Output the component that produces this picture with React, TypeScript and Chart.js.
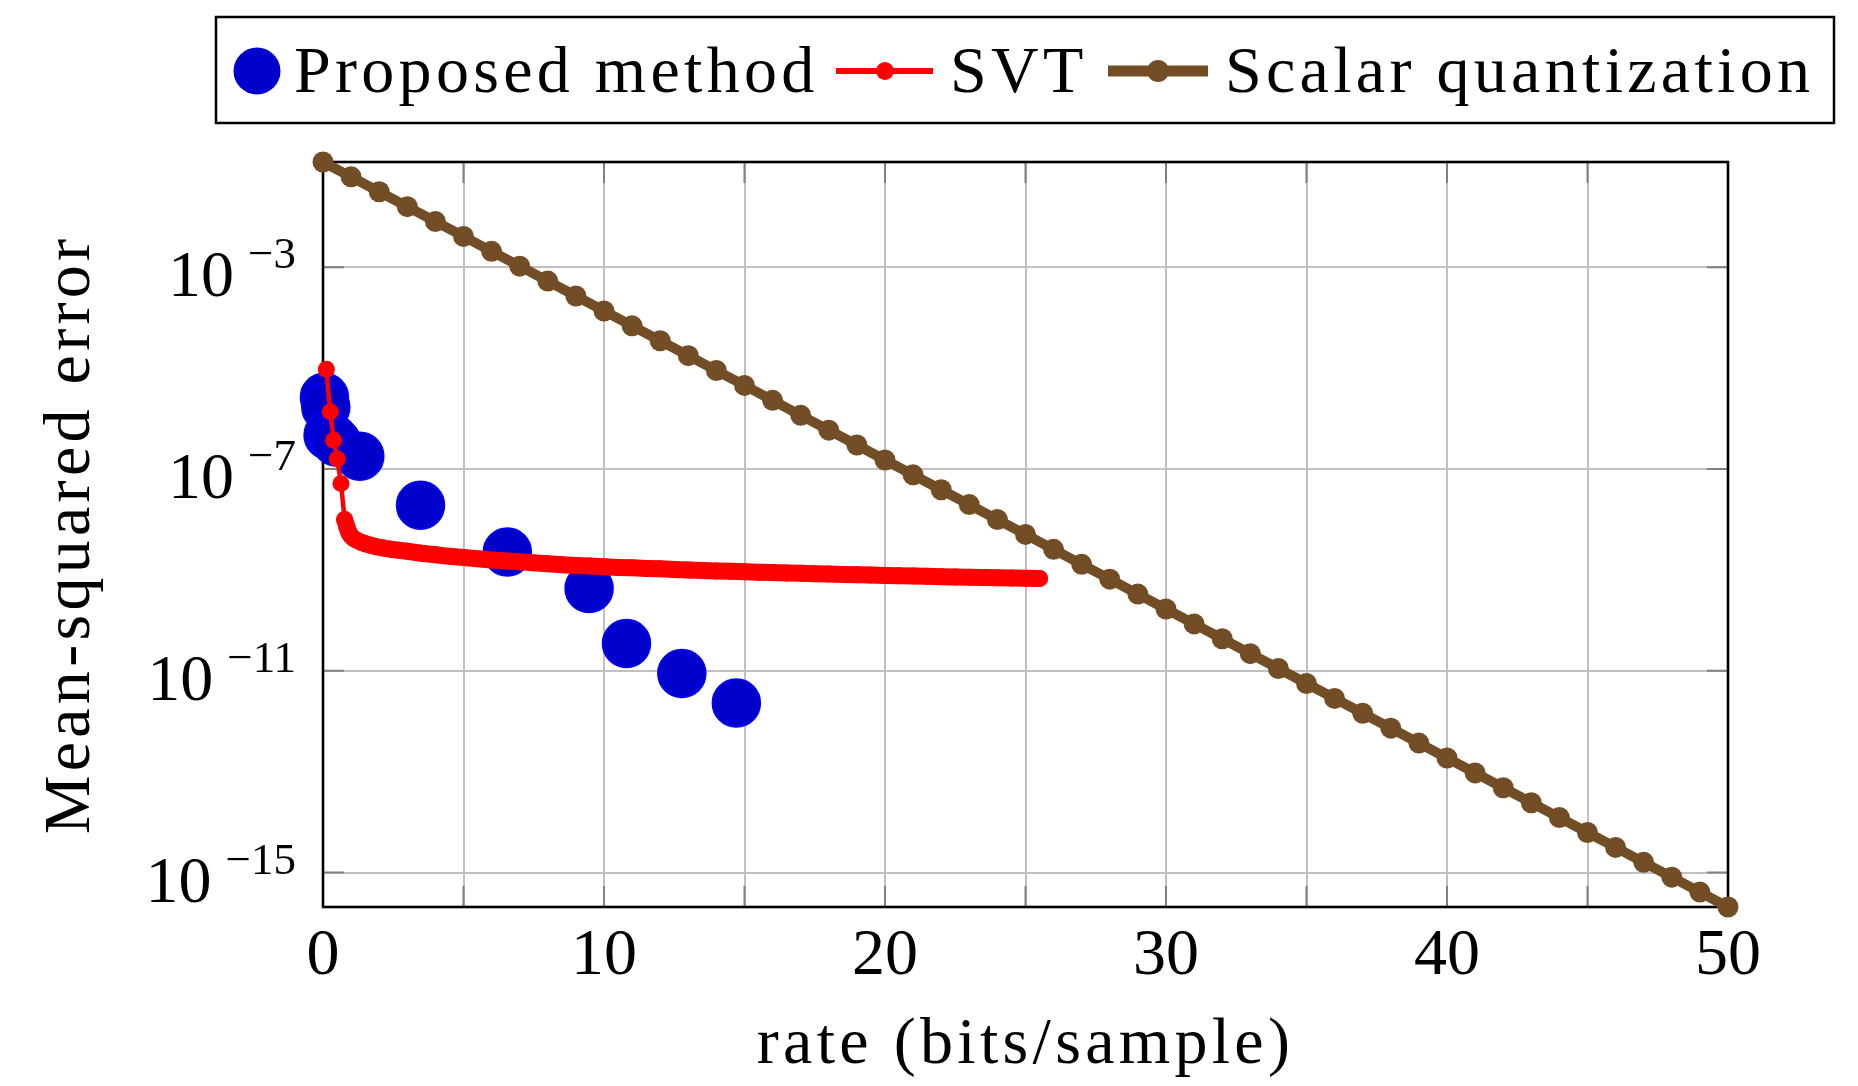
import { useEffect, useRef } from 'react';
import { Chart, registerables } from 'chart.js';

Chart.register(...registerables);

// ---- data ----
const SQ_RATE = [0, 1, 2, 3, 4, 5, 6, 7, 8, 9, 10, 11, 12, 13, 14, 15, 16, 17, 18, 19, 20, 21, 22, 23, 24, 25, 26, 27, 28, 29, 30, 31, 32, 33, 34, 35, 36, 37, 38, 39, 40, 41, 42, 43, 44, 45, 46, 47, 48, 49, 50];
const SQ_MSE = [
  1.22e-1, 6.20e-2, 3.14e-2, 1.59e-2, 8.06e-3, 4.08e-3, 2.07e-3, 1.05e-3, 5.31e-4, 2.69e-4,
  1.36e-4, 6.90e-5, 3.49e-5, 1.77e-5, 8.96e-6, 4.54e-6, 2.30e-6, 1.16e-6, 5.90e-7, 2.99e-7,
  1.51e-7, 7.67e-8, 3.88e-8, 1.97e-8, 9.96e-9, 5.05e-9, 2.56e-9, 1.29e-9, 6.56e-10, 3.32e-10,
  1.68e-10, 8.52e-11, 4.32e-11, 2.19e-11, 1.11e-11, 5.61e-12, 2.84e-12, 1.44e-12, 7.29e-13, 3.69e-13,
  1.87e-13, 9.48e-14, 4.80e-14, 2.43e-14, 1.23e-14, 6.24e-15, 3.16e-15, 1.60e-15, 8.11e-16, 4.11e-16,
  2.08e-16,
];

const SVT_RATE = [
  0.12, 0.26, 0.38, 0.51, 0.64, 0.77, 0.85, 0.9, 0.95, 1.0, 1.1, 1.2, 1.35, 1.5, 1.7, 1.9, 2.1, 2.4, 2.7, 3.0,
  3.5, 4.0, 4.5, 5.0, 5.5, 6.0, 6.5, 7.0, 7.5, 8.0, 8.5, 9.0, 9.5, 10.0, 10.5, 11.0, 11.5, 12.0, 12.5, 13.0,
  13.5, 14.0, 14.5, 15.0, 15.5, 16.0, 16.5, 17.0, 17.5, 18.0, 18.5, 19.0, 19.5, 20.0, 20.5, 21.0, 21.5, 22.0,
  22.5, 23.0, 23.5, 24.0, 24.5, 25.0, 25.5,
];
const SVT_MSE = [
  9.5e-6, 1.36e-6, 3.72e-7, 1.58e-7, 5.15e-8, 9.95e-9, 7.08e-9, 5.89e-9, 5.13e-9, 4.68e-9, 4.17e-9, 3.89e-9,
  3.55e-9, 3.31e-9, 3.09e-9, 2.88e-9, 2.75e-9, 2.57e-9, 2.45e-9, 2.34e-9,
  2.14e-9, 2.00e-9, 1.86e-9, 1.76e-9, 1.66e-9, 1.58e-9, 1.51e-9, 1.45e-9, 1.38e-9, 1.32e-9, 1.27e-9, 1.23e-9,
  1.19e-9, 1.15e-9, 1.12e-9, 1.10e-9, 1.07e-9, 1.05e-9, 1.02e-9, 1.00e-9, 9.77e-10, 9.55e-10, 9.38e-10,
  9.20e-10, 9.04e-10, 8.87e-10, 8.71e-10, 8.55e-10, 8.41e-10, 8.28e-10, 8.15e-10, 8.02e-10, 7.89e-10,
  7.76e-10, 7.66e-10, 7.55e-10, 7.45e-10, 7.35e-10, 7.24e-10, 7.16e-10, 7.08e-10, 7.00e-10, 6.92e-10,
  6.84e-10, 6.76e-10,
];

const PROP_RATE = [0.05, 0.1, 0.18, 0.36, 0.48, 1.31, 3.47, 6.56, 9.47, 10.8, 12.77, 14.71];
const PROP_MSE = [2.65e-6, 1.68e-6, 4.68e-7, 4.02e-7, 3.44e-7, 1.79e-7, 1.91e-8, 2.27e-9, 4.27e-10, 3.47e-11, 8.81e-12, 2.30e-12];

const X_LABEL_VALUES = [0, 10, 20, 30, 40, 50];
const Y_TICKS = [1e-15, 1e-11, 1e-7, 1e-3];
const LEGEND_LABELS = ['Proposed method', 'SVT', 'Scalar quantization'];
const X_TITLE = 'rate (bits/sample)';
const Y_TITLE = 'Mean-squared error';

const BLUE = '#0000CC';
const RED = '#FF0000';
const BROWN = '#734D26';
const FONT = "'Liberation Serif', 'Times New Roman', serif";

const W = 1858;
const H = 1086;

function pts(xs: number[], ys: number[]) {
  return xs.map((x, i) => ({ x, y: ys[i] }));
}

const decor = {
  id: 'decor',
  beforeDatasetsDraw(chart: any) {
    const { ctx, chartArea: a, scales } = chart;
    ctx.save();
    ctx.strokeStyle = '#808080';
    ctx.lineWidth = 2;
    const tl = 21;
    for (const t of scales.x.ticks) {
      const x = scales.x.getPixelForValue(t.value);
      ctx.beginPath();
      ctx.moveTo(x, a.bottom);
      ctx.lineTo(x, a.bottom - tl);
      ctx.moveTo(x, a.top);
      ctx.lineTo(x, a.top + tl);
      ctx.stroke();
    }
    for (const t of scales.y.ticks) {
      const y = scales.y.getPixelForValue(t.value);
      ctx.beginPath();
      ctx.moveTo(a.left, y);
      ctx.lineTo(a.left + tl, y);
      ctx.moveTo(a.right, y);
      ctx.lineTo(a.right - tl, y);
      ctx.stroke();
    }
    ctx.strokeStyle = '#000';
    ctx.lineWidth = 2.6;
    ctx.strokeRect(a.left, a.top, a.right - a.left, a.bottom - a.top);
    ctx.restore();
  },
  afterDraw(chart: any) {
    const { ctx, chartArea: a, scales } = chart;
    ctx.save();
    ctx.fillStyle = '#000';
    // x tick labels
    ctx.font = `66px ${FONT}`;
    ctx.textAlign = 'center';
    ctx.textBaseline = 'alphabetic';
    for (const v of X_LABEL_VALUES) {
      ctx.fillText(String(v), scales.x.getPixelForValue(v), 974);
    }
    // y tick labels 10^{-n}
    for (const v of Y_TICKS) {
      const y = scales.y.getPixelForValue(v);
      const e = Math.round(Math.log10(v));
      const sup = (e < 0 ? '\u2212' : '') + Math.abs(e);
      ctx.font = `45px ${FONT}`;
      ctx.textAlign = 'right';
      ctx.fillText(sup, 296, y + 1);
      const sw = ctx.measureText(sup).width;
      ctx.font = `66px ${FONT}`;
      ctx.fillText('10', 296 - sw - 14, y + 29);
    }
    // titles
    (ctx as any).letterSpacing = '4.3px';
    ctx.font = `66px ${FONT}`;
    ctx.textAlign = 'center';
    ctx.fillText(X_TITLE, (a.left + a.right) / 2, 1063);
    ctx.save();
    ctx.translate(89, (a.top + a.bottom) / 2);
    ctx.rotate(-Math.PI / 2);
    ctx.fillText(Y_TITLE, 0, 0);
    ctx.restore();

    // legend
    ctx.lineWidth = 2.5;
    ctx.strokeStyle = '#000';
    ctx.strokeRect(216, 17, 1834 - 216, 123 - 17);
    const cy = 71;
    ctx.textAlign = 'left';
    // proposed
    ctx.fillStyle = BLUE;
    ctx.beginPath();
    ctx.arc(257, cy, 23.5, 0, Math.PI * 2);
    ctx.fill();
    ctx.fillStyle = '#000';
    ctx.fillText(LEGEND_LABELS[0], 294, 92);
    // SVT
    ctx.strokeStyle = RED;
    ctx.lineWidth = 6;
    ctx.beginPath();
    ctx.moveTo(836, cy);
    ctx.lineTo(933, cy);
    ctx.stroke();
    ctx.fillStyle = RED;
    ctx.beginPath();
    ctx.arc(885, cy, 9, 0, Math.PI * 2);
    ctx.fill();
    ctx.fillStyle = '#000';
    ctx.fillText(LEGEND_LABELS[1], 950, 92);
    // Scalar quantization
    ctx.strokeStyle = BROWN;
    ctx.lineWidth = 11;
    ctx.beginPath();
    ctx.moveTo(1108, cy);
    ctx.lineTo(1208, cy);
    ctx.stroke();
    ctx.fillStyle = BROWN;
    ctx.beginPath();
    ctx.arc(1158, cy, 11, 0, Math.PI * 2);
    ctx.fill();
    ctx.fillStyle = '#000';
    ctx.fillText(LEGEND_LABELS[2], 1225, 92);
    ctx.restore();
  },
};

export default function App() {
  const ref = useRef<HTMLCanvasElement | null>(null);

  useEffect(() => {
    document.body.style.margin = '0';
    const canvas = ref.current!;
    const chart = new Chart(canvas, {
      type: 'line',
      data: {
        datasets: [
          {
            label: LEGEND_LABELS[1],
            data: pts(SVT_RATE, SVT_MSE),
            order: 0,
            borderColor: RED,
            backgroundColor: RED,
            borderWidth: 4.5,
            borderCapStyle: 'round',
            borderJoinStyle: 'round',
            segment: {
              borderWidth: (c: any) => (c.p0DataIndex >= 5 ? 17 : 4.5),
            },
            pointRadius: 8.5,
            pointBackgroundColor: RED,
            pointBorderWidth: 0,
            tension: 0,
            clip: false,
          } as any,
          {
            label: LEGEND_LABELS[0],
            data: pts(PROP_RATE, PROP_MSE),
            order: 1,
            showLine: false,
            pointRadius: 24,
            pointBackgroundColor: BLUE,
            pointBorderColor: '#0000FF',
            pointBorderWidth: 1.5,
            clip: false,
          } as any,
          {
            label: LEGEND_LABELS[2],
            data: pts(SQ_RATE, SQ_MSE),
            order: 2,
            borderColor: BROWN,
            backgroundColor: BROWN,
            borderWidth: 10,
            borderJoinStyle: 'round',
            pointRadius: 10.5,
            pointBackgroundColor: BROWN,
            pointBorderWidth: 0,
            tension: 0,
            clip: false,
          } as any,
        ],
      },
      options: {
        responsive: false,
        devicePixelRatio: 1,
        animation: false,
        events: [],
        layout: { padding: { top: 162, left: 0, right: 130, bottom: 0 } },
        plugins: { legend: { display: false }, tooltip: { enabled: false }, title: { display: false } },
        scales: {
          x: {
            type: 'linear',
            min: 0,
            max: 50,
            ticks: { display: false, stepSize: 5 },
            grid: { color: '#C0C0C0', lineWidth: 2, drawTicks: false },
            border: { display: false },
            afterFit: (s: any) => {
              s.height = H - 907;
            },
          },
          y: {
            type: 'logarithmic',
            min: 2.08e-16,
            max: 1.22e-1,
            ticks: { display: false },
            grid: { color: '#C0C0C0', lineWidth: 2, drawTicks: false },
            border: { display: false },
            afterBuildTicks: (s: any) => {
              s.ticks = Y_TICKS.map((v) => ({ value: v }));
            },
            afterFit: (s: any) => {
              s.width = 323;
            },
          },
        },
      } as any,
      plugins: [decor],
    });
    return () => chart.destroy();
  }, []);

  return (
    <div style={{ width: W, height: H, background: '#fff' }}>
      <canvas ref={ref} width={W} height={H} style={{ display: 'block' }} />
    </div>
  );
}
